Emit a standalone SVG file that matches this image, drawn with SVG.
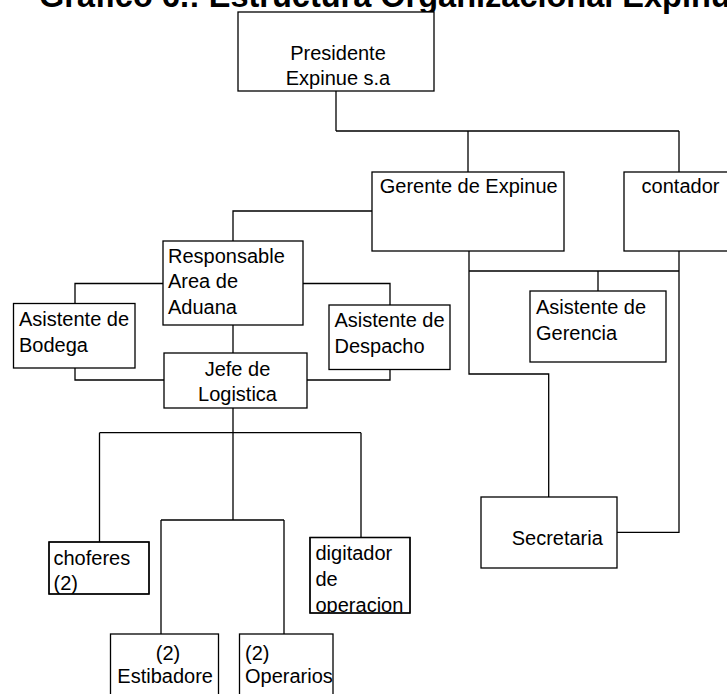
<svg xmlns="http://www.w3.org/2000/svg" width="727" height="694" viewBox="0 0 727 694">
<style>
.box{fill:#fff;stroke:#000;stroke-width:1.3}
.ln{fill:none;stroke:#000;stroke-width:1.3}
text{font-family:"Liberation Sans",Arial,sans-serif;font-size:20px;fill:#000}
.c{text-anchor:middle}
.title{font-size:32.5px;font-weight:bold}
</style>
<defs>
<clipPath id="clipChof"><rect x="49" y="542" width="100" height="52"/></clipPath>
<clipPath id="clipDig"><rect x="310" y="537.5" width="100" height="75.5"/></clipPath>
</defs>
<rect x="0" y="0" width="727" height="694" fill="#fff"/>
<text class="title" x="39" y="6.8">Gráfico 6.: Estructura Organizacional Expinue</text>
<g id="connectors">
<path class="ln" d="M336,91 V131 M336,131 H679 M468,131 V172 M679,131 V172"/>
<path class="ln" d="M372,211 H233 V241"/>
<path class="ln" d="M163,283.5 H75 V303.5 M303,283.5 H390 V305"/>
<path class="ln" d="M233,325 V353"/>
<path class="ln" d="M75,368 V380 H164 M390,369.5 V380 H307"/>
<path class="ln" d="M233,408 V520 M99.5,432.7 H361 M99.5,432.7 V542 M361,432.7 V541.7"/>
<path class="ln" d="M161,520 H284 M161,520 V634 M284,520 V634"/>
<path class="ln" d="M469,251 V374 H548.7 V497"/>
<path class="ln" d="M469,271 H679 M598,271 V291 M679,251 V532.3 H617"/>
</g>
<g id="presidente">
<rect class="box" x="238" y="12" width="196" height="79"/>
<text class="c" x="338" y="60">Presidente</text>
<text class="c" x="338" y="85">Expinue s.a</text>
</g>
<g id="gerente">
<rect class="box" x="372" y="172" width="192" height="79"/>
<text class="c" x="468.7" y="193">Gerente de Expinue</text>
</g>
<g id="contador">
<rect class="box" x="624" y="172" width="112" height="79"/>
<text class="c" x="680.5" y="193">contador</text>
</g>
<g id="responsable">
<rect class="box" x="163" y="241" width="140" height="84"/>
<text x="168" y="263">Responsable</text>
<text x="168" y="288">Area de</text>
<text x="168" y="314">Aduana</text>
</g>
<g id="bodega">
<rect class="box" x="13.5" y="303.5" width="121.5" height="64.5"/>
<text x="19" y="326">Asistente de</text>
<text x="19" y="352">Bodega</text>
</g>
<g id="despacho">
<rect class="box" x="329" y="305" width="121" height="64.5"/>
<text x="334.5" y="327">Asistente de</text>
<text x="334.5" y="353">Despacho</text>
</g>
<g id="jefe">
<rect class="box" x="164" y="353" width="143" height="55"/>
<text class="c" x="237.5" y="376">Jefe de</text>
<text class="c" x="237.5" y="401">Logistica</text>
</g>
<g id="asistente-gerencia">
<rect class="box" x="530" y="291" width="136" height="71"/>
<text x="536" y="313.5">Asistente de</text>
<text x="536" y="339.5">Gerencia</text>
</g>
<g id="secretaria">
<rect class="box" x="481" y="497" width="136" height="71"/>
<text x="511.7" y="545">Secretaria</text>
</g>
<g id="choferes">
<rect class="box" x="49" y="542" width="100" height="52"/>
<g clip-path="url(#clipChof)">
<text x="53.5" y="565">choferes</text>
<text x="53.5" y="590">(2)</text>
</g>
<rect x="49" y="542" width="100" height="52" fill="none" stroke="#000" stroke-width="1.3"/>
</g>
<g id="digitador">
<rect class="box" x="310" y="537.5" width="100" height="75.5"/>
<g clip-path="url(#clipDig)">
<text x="315.5" y="559.5">digitador</text>
<text x="315.5" y="585.5">de</text>
<text x="315.5" y="611.5">operacion</text>
</g>
<rect x="310" y="537.5" width="100" height="75.5" fill="none" stroke="#000" stroke-width="1.3"/>
</g>
<g id="estibadores">
<rect class="box" x="110.5" y="634" width="108" height="80"/>
<text class="c" x="168" y="659.5">(2)</text>
<text x="117.3" y="682.7">Estibadore</text>
</g>
<g id="operarios">
<rect class="box" x="239.5" y="634" width="93.5" height="80"/>
<text x="245" y="659.5">(2)</text>
<text x="245" y="682.7">Operarios</text>
</g>
</svg>
